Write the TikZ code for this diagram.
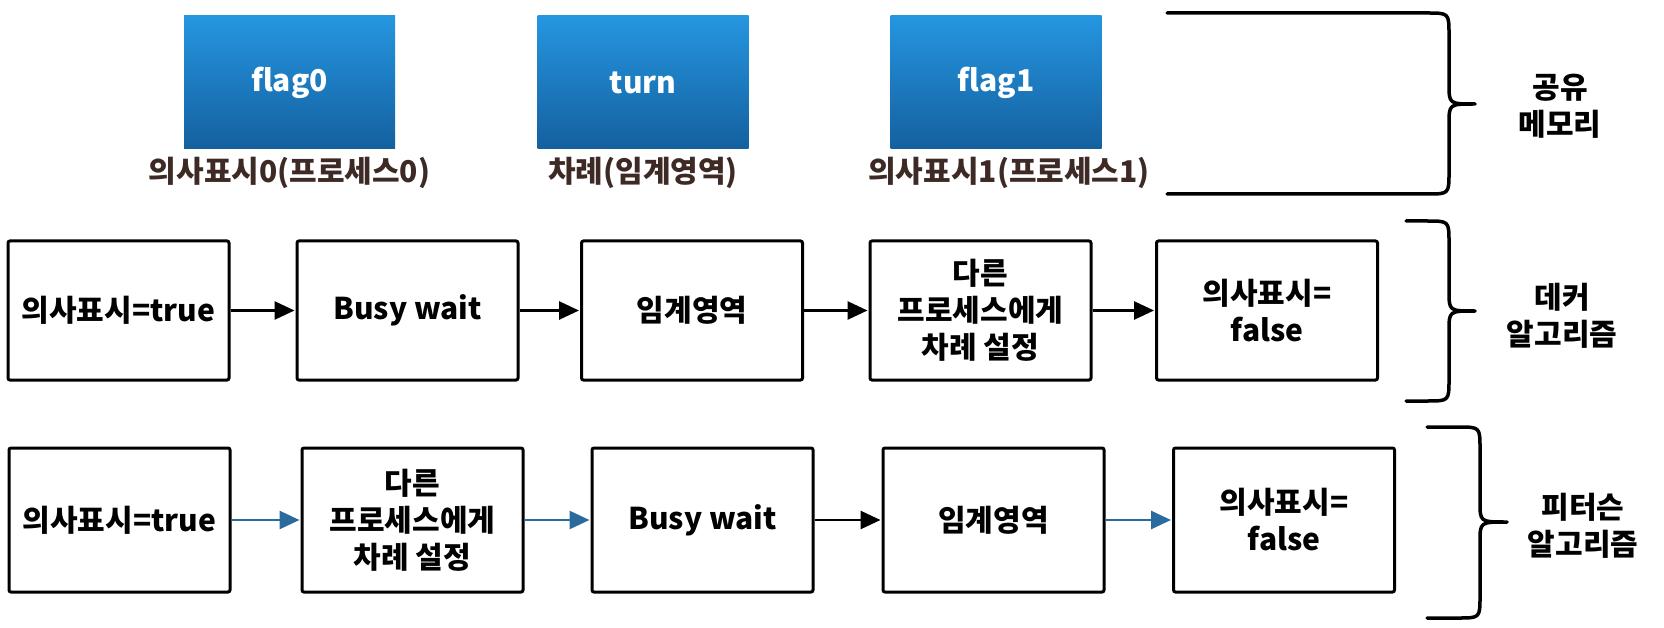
\documentclass[tikz,border=0pt]{standalone}
\usepackage{fontspec}
\newfontfamily\kr{Noto Sans CJK KR}
\usetikzlibrary{arrows.meta}
\definecolor{boxtop}{HTML}{2596E0}
\definecolor{boxbot}{HTML}{14609F}
\definecolor{lblbrown}{HTML}{3E2A24}
\definecolor{arrblue}{HTML}{2A6A9C}
\tikzset{
  fnt/.style={font=\kr\bfseries\fontsize{30}{37}\selectfont},
  membox/.style={fnt, text=white, minimum width=211pt, minimum height=133pt, inner sep=0pt,
    top color=boxtop, bottom color=boxbot, draw=none},
  memlbl/.style={fnt, text=lblbrown, inner sep=0pt},
  stepbox/.style={fnt, draw=black, line width=3pt, rounded corners=2pt, align=center,
    minimum width=221pt, inner sep=0pt, text=black},
  rowa/.style={stepbox, minimum height=139pt},
  rowb/.style={stepbox, minimum height=144pt},
  flow/.style={line width=2.8pt, -{Triangle[length=20pt,width=18pt]}, shorten >=1pt},
  bflow/.style={flow, draw=arrblue, -{Triangle[length=20pt,width=18pt,color=arrblue]}},
  brace/.style={line width=3.5pt, line cap=round, line join=round},
  side/.style={fnt, align=center, inner sep=0pt, text=black}
}
\begin{document}
\begin{tikzpicture}[x=1pt,y=-1pt]
\useasboundingbox (0,0) rectangle (1664,628);
\fill[white] (0,0) rectangle (1664,628);
% shared memory
\node[membox] (f0) at (289.5,82.5) {flag0};
\node[membox] (tn) at (643,82.5) {turn};
\node[membox] (f1) at (996,82.5) {flag1};
\node[memlbl] (l0) at (289.5,173) {의사표시0(프로세스0)};
\node[memlbl] (lt) at (643,173) {차례(임계영역)};
\node[memlbl] (l1) at (1009,173) {의사표시1(프로세스1)};
\draw[brace] (1167,13) -- (1427,13) .. controls (1449,13) .. (1449,35) -- (1449,84)
  .. controls (1449,104) .. (1475,104) .. controls (1449,104) .. (1449,124) -- (1449,172)
  .. controls (1449,194) .. (1427,194) -- (1167,194);
\node[side] (s1) at (1560,106) {공유\\메모리};
% Dekker
\node[rowa] (a1) at (118.5,310.5) {의사표시=true};
\node[rowa] (a2) at (407.5,310.5) {Busy wait};
\node[rowa] (a3) at (692,310.5) {임계영역};
\node[rowa] (a4) at (980.5,310.5) {다른\\프로세스에게\\차례 설정};
\node[rowa] (a5) at (1267,310.5) {의사표시=\\false};
\draw[flow] (a1) -- (a2);
\draw[flow] (a2) -- (a3);
\draw[flow] (a3) -- (a4);
\draw[flow] (a4) -- (a5);
\draw[brace] (1406,221) -- (1427,221) .. controls (1449,221) .. (1449,243) -- (1449,291)
  .. controls (1449,311) .. (1475,311) .. controls (1449,311) .. (1449,331) -- (1449,379)
  .. controls (1449,401) .. (1427,401) -- (1406,401);
\node[side] (s2) at (1562,316) {데커\\알고리즘};
% Peterson
\node[rowb] (b1) at (119.5,520) {의사표시=true};
\node[rowb] (b2) at (412.5,520) {다른\\프로세스에게\\차례 설정};
\node[rowb] (b3) at (702.5,520) {Busy wait};
\node[rowb] (b4) at (993.5,520) {임계영역};
\node[rowb] (b5) at (1284,520) {의사표시=\\false};
\draw[bflow] (b1) -- (b2);
\draw[bflow] (b2) -- (b3);
\draw[flow] (b3) -- (b4);
\draw[bflow] (b4) -- (b5);
\draw[brace] (1427,427) -- (1458,427) .. controls (1480,427) .. (1480,449) -- (1480,502)
  .. controls (1480,522) .. (1507,522) .. controls (1480,522) .. (1480,542) -- (1480,596)
  .. controls (1480,618) .. (1458,618) -- (1427,618);
\node[side] (s3) at (1583,526) {피터슨\\알고리즘};
\end{tikzpicture}
\end{document}
